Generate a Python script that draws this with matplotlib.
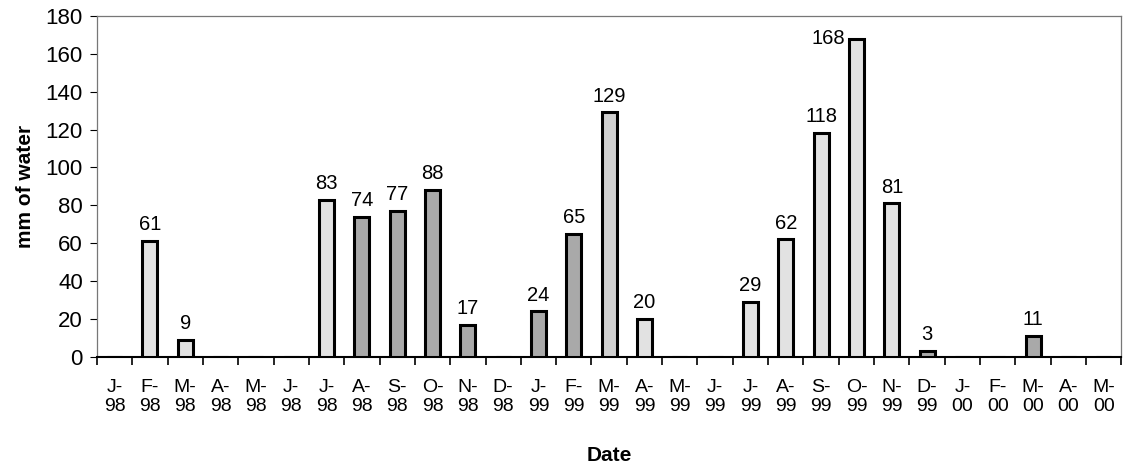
import numpy as np
import matplotlib
matplotlib.use("Agg")
import matplotlib.pyplot as plt
from matplotlib.ticker import FixedLocator

# monthly rainfall, Jan 1998 - May 2000
months = ["J-\n98", "F-\n98", "M-\n98", "A-\n98", "M-\n98", "J-\n98",
          "J-\n98", "A-\n98", "S-\n98", "O-\n98", "N-\n98", "D-\n98",
          "J-\n99", "F-\n99", "M-\n99", "A-\n99", "M-\n99", "J-\n99",
          "J-\n99", "A-\n99", "S-\n99", "O-\n99", "N-\n99", "D-\n99",
          "J-\n00", "F-\n00", "M-\n00", "A-\n00", "M-\n00"]
rain = [0, 61, 9, 0, 0, 0,
        83, 74, 77, 88, 17, 0,
        24, 65, 129, 20, 0, 0,
        29, 62, 118, 168, 81, 3,
        0, 0, 11, 0, 0]
yticks = [0, 20, 40, 60, 80, 100, 120, 140, 160, 180]

# bar shading as scanned (light stipple vs dark stipple)
shade = ["l", "l", "l", "l", "l", "l",
         "l", "d", "d", "d", "d", "l",
         "d", "d", "m", "l", "l", "l",
         "l", "l", "l", "l", "l", "d",
         "l", "l", "d", "l", "l"]
shade_col = {"l": "#e2e2e2", "m": "#cfcfcf", "d": "#a9a9a9"}

plt.rcParams['font.family'] = ['Liberation Sans', 'DejaVu Sans']

fig = plt.figure(figsize=(11.26, 4.66), dpi=100)
ax = fig.add_axes([0.086, 0.234, 0.91, 0.732])

x = np.arange(len(months))
cols = [shade_col[s] for s in shade]
bars = ax.bar(x, rain, width=0.42, color=cols, edgecolor="black", linewidth=2.2, zorder=3)

for xi, v in zip(x, rain):
    if v <= 0:
        continue
    if v > 160:
        # no room above, label sits beside the bar top
        ax.annotate(str(v), (xi - 0.21, v), xytext=(-3, 0), textcoords="offset points",
                    ha="right", va="center", fontsize=14.5)
    else:
        ax.annotate(str(v), (xi, v), xytext=(0, 5), textcoords="offset points",
                    ha="center", va="bottom", fontsize=14.5)

ax.set_xlim(-0.5, len(months) - 0.5)
ax.set_ylim(0, 180)
ax.set_yticks(yticks)
ax.tick_params(axis="y", labelsize=16, length=5, width=0.8, direction="out", pad=5)

ax.set_xticks(x)
ax.set_xticklabels(months, fontsize=14, linespacing=1.15)
ax.tick_params(axis="x", which="major", length=0, pad=16)
ax.xaxis.set_minor_locator(FixedLocator(np.arange(-0.5, len(months), 1.0)))
ax.tick_params(axis="x", which="minor", length=6, width=1.2, direction="out")

for s in ["top", "right", "left"]:
    ax.spines[s].set_color("#777777")
    ax.spines[s].set_linewidth(0.9)
ax.spines["bottom"].set_color("black")
ax.spines["bottom"].set_linewidth(1.5)

ax.set_ylabel("mm of water", fontsize=15, fontweight="bold", labelpad=8)
ax.set_xlabel("Date", fontsize=15, fontweight="bold", labelpad=22)

plt.savefig("out.png", dpi=100)
